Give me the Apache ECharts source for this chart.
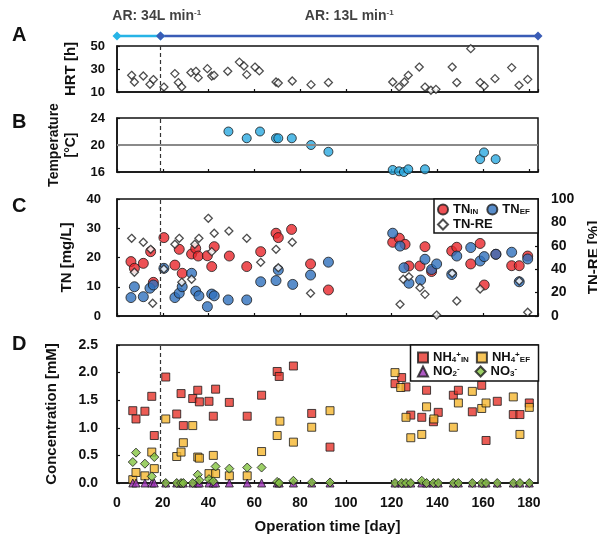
<!DOCTYPE html>
<html>
<head>
<meta charset="utf-8">
<script src="https://cdn.jsdelivr.net/npm/echarts@6/dist/echarts.min.js"></script>
<style>
  html, body { margin: 0; padding: 0; background: #fff; }
  #chart { width: 597px; height: 535px; }
</style>
</head>
<body>
<div id="chart"></div>
<script>
// ---- operation-time axis ----
const dayMin = 0, dayMax = 184, dayStep = 20;
const switchDay = 19;                       // aeration-rate change

// ---- aeration-rate phases ----
const arStart = [0, 19];
const arEnd = [19, 184];
const arRate = [34, 13];

// ---- A: hydraulic retention time ----
const hrtDay = [6.4, 7.6, 11.5, 14.4, 15.9, 20.5, 25.3, 26.8, 28.3, 32.3, 34.5, 35.5, 39.5, 41.4, 42.4,
  48.4, 53.5, 55.5, 56.7, 60.3, 62.2, 69.5, 70.5, 76.6, 84.8, 92.4, 120.5, 123.3, 125.6, 127.3,
  132.1, 134.6, 137.2, 139.4, 146.5, 148.5, 154.6, 158.7, 160.5, 165.2, 172.5, 175.7, 179.5];
const hrtVal = [24.5, 18.7, 23.9, 16.7, 20.8, 14.3, 26.0, 18.2, 14.3, 26.9, 28.0, 22.5, 30.3, 23.9, 24.5,
  28.0, 36.0, 32.6, 25.1, 31.7, 28.3, 18.7, 17.8, 19.6, 16.4, 18.2, 18.7, 14.3, 18.7, 24.5,
  31.7, 14.3, 11.5, 12.3, 31.7, 18.2, 47.7, 18.2, 15.2, 21.6, 31.2, 15.8, 21.0];

// ---- B: temperature ----
const tempDay = [48.7, 56.7, 62.5, 69.5, 70.5, 76.4, 84.8, 92.4, 120.5, 123.3, 125.4, 127.3, 134.6, 158.7, 160.4, 165.5];
const tempVal = [22, 21, 22, 21, 21, 21, 20, 19, 16.3, 16.1, 16.0, 16.4, 16.4, 17.9, 18.9, 17.9];

// ---- C: total nitrogen ----
const tnInDay = [6.1, 7.6, 11.5, 14.7, 15.9, 20.5, 25.3, 27.2, 28.5, 32.6, 34.4, 35.5, 39.5, 41.4, 42.5,
  49.1, 56.7, 62.8, 69.5, 70.5, 76.3, 84.6, 92.4, 120.5, 123.4, 125.9, 127.6, 132.4, 134.6, 137.5,
  146.3, 148.5, 154.6, 158.7, 160.5, 165.6, 172.5, 175.8, 179.5];
const tnInVal = [18.6, 16.3, 18.0, 22.0, 11.5, 26.8, 17.4, 22.8, 14.6, 21.2, 23.1, 20.5, 20.6, 16.9, 23.7,
  20.5, 16.9, 22.0, 28.3, 26.8, 29.6, 17.8, 8.9, 25.2, 26.6, 24.5, 17.1, 17.1, 23.7, 15.2,
  22.2, 23.5, 17.8, 24.8, 10.6, 21.1, 17.2, 17.2, 20.5];
const tnEfDay = [6.1, 7.6, 11.5, 14.4, 15.9, 20.5, 25.3, 27.2, 28.5, 32.6, 34.4, 35.8, 39.5, 41.4, 42.5,
  48.6, 56.7, 62.8, 69.5, 70.5, 76.8, 84.6, 92.4, 120.5, 123.7, 125.4, 127.6, 132.7, 134.6, 137.5,
  139.7, 146.3, 148.5, 154.6, 158.7, 160.5, 165.6, 172.5, 175.8, 179.5];
const tnEfVal = [6.3, 10.0, 6.6, 9.5, 10.6, 16.3, 6.3, 7.8, 10.0, 14.6, 8.5, 6.9, 3.2, 7.5, 6.9,
  5.5, 5.5, 11.7, 12.1, 15.7, 10.8, 14.0, 18.4, 28.3, 23.9, 16.5, 11.2, 12.3, 19.4, 15.9,
  17.8, 14.2, 20.5, 23.4, 18.8, 20.3, 21.1, 21.8, 11.7, 19.5];
const tnReDay = [6.4, 7.6, 11.5, 14.7, 15.6, 20.5, 25.3, 27.2, 28.3, 32.6, 34.0, 35.8, 39.9, 41.4, 42.5,
  48.9, 56.7, 62.8, 69.5, 70.5, 76.6, 84.6, 123.7, 125.1, 127.6, 132.4, 134.6, 139.7, 146.5, 148.5,
  158.7, 175.8, 179.5];
const tnReVal = [66.4, 37.4, 63.0, 57.0, 10.9, 40.2, 61.3, 66.4, 28.8, 31.4, 61.3, 66.4, 83.5, 55.0, 70.7,
  72.6, 66.4, 45.9, 57.0, 41.3, 63.0, 19.4, 10.0, 31.4, 33.6, 24.2, 18.5, 0.8, 36.5, 12.8,
  23.1, 29.9, 3.2];

// ---- D: inorganic nitrogen species ----
const ionDay = [6.9, 8.3, 12.2, 15.2, 16.3, 21.3, 26.1, 28.0, 29.0, 33.1, 35.3, 36.0, 40.2, 42.1, 43.1,
  49.1, 56.9, 63.2, 70.0, 70.9, 77.1, 85.1, 93.1, 121.5, 124.4, 126.3, 128.4, 133.2, 135.3, 138.3,
  140.4, 147.0, 149.2, 155.3, 159.4, 161.3, 166.2, 173.2, 176.1, 180.2];
const nh4InVal = [1.31, 1.16, 1.30, 1.57, 0.86, 1.92, 1.25, 1.62, 1.04, 1.53, 1.68, 1.47, 1.48, 1.21, 1.70,
  1.46, 1.21, 1.59, 2.02, 1.93, 2.12, 1.26, 0.65, 1.80, 1.91, 1.74, 1.23, 1.19, 1.68, 1.11,
  1.28, 1.59, 1.68, 1.29, 1.77, 0.77, 1.48, 1.24, 1.24, 1.45];
const nh4EfDay = [6.9, 8.3, 12.2, 15.2, 16.3, 21.3, 26.1, 28.0, 29.0, 33.1, 35.3, 36.0, 40.2, 42.1, 43.1,
  49.1, 56.9, 63.2, 70.0, 71.2, 77.1, 85.1, 93.1, 121.5, 124.0, 126.3, 128.4, 133.2, 135.3, 138.5,
  147.0, 149.2, 155.3, 159.4, 161.3, 173.2, 176.1, 180.2];
const nh4EfVal = [0.06, 0.19, 0.13, 0.56, 0.26, 1.16, 0.48, 0.56, 0.73, 1.04, 0.47, 0.45, 0.17, 0.50, 0.17,
  0.13, 0.13, 0.57, 0.86, 1.12, 0.74, 1.01, 1.31, 2.00, 1.73, 1.19, 0.82, 0.88, 1.38, 1.16,
  1.01, 1.45, 1.66, 1.35, 1.45, 1.56, 0.88, 1.37];
const no2Val = [0, 0, 0, 0, 0, 0, 0, 0, 0, 0, 0, 0, 0, 0, 0, 0, 0, 0, 0, 0,
  0, 0, 0, 0, 0, 0, 0, 0, 0, 0, 0, 0, 0, 0, 0, 0, 0, 0, 0, 0];
const no3Val = [0.38, 0.55, 0.35, 0.12, 0.47, 0, 0, 0, 0, 0, 0.15, 0.05, 0.07, 0.03, 0.30,
  0.26, 0.28, 0.28, 0.02, 0, 0.04, 0.01, 0.01, 0, 0, 0, 0, 0.04, 0, 0,
  0, 0, 0, 0, 0, 0, 0, 0, 0, 0];

// ---- styling ----
const FONT = '"Liberation Sans", Arial, sans-serif';
const INK = '#111';
const GL = 117, GR = 59;

const pairs = (xs, ys) => xs.map((x, i) => [x, ys[i]]);

const rich = {
  sub: { fontFamily: FONT, fontWeight: 'bold', fontSize: 8, color: INK, lineHeight: 9, verticalAlign: 'bottom' },
  sup: { fontFamily: FONT, fontWeight: 'bold', fontSize: 8, color: INK, lineHeight: 9, verticalAlign: 'top' }
};

const legendText = {
  'TN_IN': 'TN{sub|IN}',
  'TN_EF': 'TN{sub|EF}',
  'TN-RE': 'TN-RE',
  'NH4_IN': 'NH{sub|4}{sup|+}{sub|IN}',
  'NH4_EF': 'NH{sub|4}{sup|+}{sub|EF}',
  'NO2': 'NO{sub|2}{sup|-}',
  'NO3': 'NO{sub|3}{sup|-}'
};

function xAxisFor(grid, labelled) {
  return {
    type: 'value', gridIndex: grid, min: dayMin, max: dayMax, interval: dayStep,
    show: grid > 0,
    axisLine: { show: true, onZero: false, lineStyle: { color: INK, width: 1.5 } },
    axisTick: { show: true, inside: true, length: 3, lineStyle: { color: INK, width: 1.2 } },
    splitLine: { show: false },
    axisLabel: {
      show: labelled, margin: 13, showMaxLabel: false,
      fontFamily: FONT, fontWeight: 'bold', fontSize: 14, color: INK
    },
    name: labelled ? 'Operation time [day]' : '',
    nameLocation: 'middle', nameGap: 36,
    nameTextStyle: { fontFamily: FONT, fontWeight: 'bold', fontSize: 15, color: INK }
  };
}

function yAxisFor(grid, min, max, step, name, gap, opts) {
  return Object.assign({
    type: 'value', gridIndex: grid, min: min, max: max, interval: step,
    axisLine: { show: true, lineStyle: { color: INK, width: 1.5 } },
    axisTick: { show: true, inside: true, length: 3, lineStyle: { color: INK, width: 1.2 } },
    splitLine: { show: false },
    axisLabel: { margin: 12, fontFamily: FONT, fontWeight: 'bold', fontSize: 13, color: INK },
    name: name, nameLocation: 'middle', nameRotate: 90, nameGap: gap,
    nameTextStyle: { fontFamily: FONT, fontWeight: 'bold', fontSize: 15, color: INK, lineHeight: 17 }
  }, opts || {});
}

const switchLine = {
  silent: true, symbol: 'none', label: { show: false },
  lineStyle: { type: [4, 3], color: '#333', width: 1.2 },
  data: [{ xAxis: switchDay }]
};

const dot = (color) => ({ color: color, borderColor: '#1a1a1a', borderWidth: 1 });

const panel = (top, height, framed) => ({
  left: GL, right: GR, top: top, height: height, show: framed,
  borderColor: INK, borderWidth: 1.5, outerBoundsMode: 'none', containLabel: false
});

const chart = echarts.init(document.getElementById('chart'), null, { renderer: 'canvas' });

chart.setOption({
  animation: false,
  backgroundColor: '#fff',
  grid: [
    panel(31, 10, false),
    panel(46, 46, true),
    panel(118, 54, true),
    panel(199, 117, true),
    panel(345, 138, true)
  ],
  xAxis: [xAxisFor(0, false), xAxisFor(1, false), xAxisFor(2, false), xAxisFor(3, false), xAxisFor(4, true)],
  yAxis: [
    { type: 'value', gridIndex: 0, min: 0, max: 1, show: false },
    yAxisFor(1, 10, 50, 20, 'HRT [h]', 30),
    yAxisFor(2, 16, 24, 4, 'Temperature\n[°C]', 30, {
      nameTextStyle: { fontFamily: FONT, fontWeight: 'bold', fontSize: 14, color: INK, lineHeight: 17 }
    }),
    yAxisFor(3, 0, 40, 10, 'TN [mg/L]', 35, {
      axisLabel: { margin: 16, fontFamily: FONT, fontWeight: 'bold', fontSize: 13, color: INK }
    }),
    yAxisFor(3, 0, 100, 20, 'TN-RE [%]', 44, {
      position: 'right',
      axisLabel: { margin: 13, fontFamily: FONT, fontWeight: 'bold', fontSize: 14, color: INK }
    }),
    yAxisFor(4, 0, 2.5, 0.5, 'Concentration [mM]', 57, {
      axisLabel: {
        margin: 19, fontFamily: FONT, fontWeight: 'bold', fontSize: 14, color: INK,
        formatter: (v) => v.toFixed(1)
      }
    })
  ],
  legend: [
    { data: ['TN_IN', 'TN_EF'], left: 437, top: 203, itemGap: 8 },
    { data: ['TN-RE'], left: 437, top: 218, itemGap: 8 },
    { data: ['NH4_IN', 'NH4_EF'], left: 417, top: 351, itemGap: 7 },
    { data: ['NO2', 'NO3'], left: 417, top: 365, itemGap: 15 }
  ].map((l) => Object.assign({
    orient: 'horizontal', padding: 0, itemWidth: 10, itemHeight: 10, selectedMode: false, z: 6,
    formatter: (n) => legendText[n],
    textStyle: { fontFamily: FONT, fontWeight: 'bold', fontSize: 13, color: INK, rich: rich }
  }, l)),
  graphic: [
    { type: 'rect', shape: { x: 434, y: 199, width: 104, height: 34 }, z: 5,
      style: { fill: '#fff', stroke: INK, lineWidth: 1.5 } },
    { type: 'rect', shape: { x: 410.5, y: 345, width: 128, height: 36 }, z: 5,
      style: { fill: '#fff', stroke: INK, lineWidth: 1.5 } },
    { type: 'text', left: 12, top: 25, style: { text: 'A', font: 'bold 20px ' + FONT, fill: INK } },
    { type: 'text', left: 12, top: 112, style: { text: 'B', font: 'bold 20px ' + FONT, fill: INK } },
    { type: 'text', left: 12, top: 196, style: { text: 'C', font: 'bold 20px ' + FONT, fill: INK } },
    { type: 'text', left: 12, top: 334, style: { text: 'D', font: 'bold 20px ' + FONT, fill: INK } }
  ],
  series: [
    // aeration-rate phase bars above panel A
    { type: 'line', name: 'phase1', xAxisIndex: 0, yAxisIndex: 0,
      data: [[arStart[0], 0.5], [arEnd[0], 0.5]],
      symbol: 'diamond', symbolSize: 9, lineStyle: { color: '#27b4e6', width: 2.5 },
      itemStyle: { color: '#27b4e6' }, z: 3 },
    { type: 'line', name: 'phase2', xAxisIndex: 0, yAxisIndex: 0,
      data: [[arStart[1], 0.5], [arEnd[1], 0.5]],
      symbol: 'diamond', symbolSize: 9, lineStyle: { color: '#3a5cb6', width: 2.5 },
      itemStyle: { color: '#3a5cb6' }, z: 3 },
    { type: 'scatter', name: 'phaseLabel', xAxisIndex: 0, yAxisIndex: 0, symbolSize: 0, silent: true,
      data: arRate.map((r, i) => ({
        value: [(arStart[i] + arEnd[i]) / 2, 0.5],
        label: { formatter: 'AR: ' + r + 'L min{sup|-1}', offset: [i === 0 ? 18 : 0, 0] }
      })),
      label: { show: true, position: 'top', distance: 13,
        fontFamily: FONT, fontWeight: 'bold', fontSize: 14, color: INK, rich: rich } },

    // A
    { type: 'scatter', name: 'HRT', xAxisIndex: 1, yAxisIndex: 1, clip: false,
      data: pairs(hrtDay, hrtVal), symbol: 'diamond', symbolSize: 8,
      itemStyle: { color: '#fff', borderColor: '#222', borderWidth: 1.3 },
      markLine: switchLine },

    // B
    { type: 'scatter', name: 'Temperature', xAxisIndex: 2, yAxisIndex: 2, clip: false,
      data: pairs(tempDay, tempVal), symbol: 'circle', symbolSize: 9,
      itemStyle: dot('#2aa9e0'),
      markLine: {
        silent: true, symbol: 'none', label: { show: false },
        data: [
          { xAxis: switchDay, lineStyle: { type: [4, 3], color: '#333', width: 1.2 } },
          { yAxis: 20, lineStyle: { type: 'solid', color: '#8a8a8a', width: 2 } }
        ]
      } },

    // C
    { type: 'scatter', name: 'TN_IN', xAxisIndex: 3, yAxisIndex: 3, clip: false,
      data: pairs(tnInDay, tnInVal), symbol: 'circle', symbolSize: 10,
      itemStyle: dot('#e8262b'), markLine: switchLine, z: 2 },
    { type: 'scatter', name: 'TN_EF', xAxisIndex: 3, yAxisIndex: 3, clip: false,
      data: pairs(tnEfDay, tnEfVal), symbol: 'circle', symbolSize: 10,
      itemStyle: dot('#2f70bd'), z: 2 },
    { type: 'scatter', name: 'TN-RE', xAxisIndex: 3, yAxisIndex: 4, clip: false,
      data: pairs(tnReDay, tnReVal), symbol: 'diamond', symbolSize: 8,
      itemStyle: { color: '#fff', borderColor: '#222', borderWidth: 1.3 }, z: 3 },

    // D
    { type: 'scatter', name: 'NH4_IN', xAxisIndex: 4, yAxisIndex: 5, clip: false,
      data: pairs(ionDay, nh4InVal), symbol: 'rect', symbolSize: 8,
      itemStyle: dot('#e6332a'), markLine: switchLine, z: 2 },
    { type: 'scatter', name: 'NH4_EF', xAxisIndex: 4, yAxisIndex: 5, clip: false,
      data: pairs(nh4EfDay, nh4EfVal), symbol: 'rect', symbolSize: 8,
      itemStyle: dot('#f5b730'), z: 2 },
    { type: 'scatter', name: 'NO2', xAxisIndex: 4, yAxisIndex: 5, clip: false,
      data: pairs(ionDay, no2Val), symbol: 'triangle', symbolSize: 8,
      itemStyle: dot('#9b2fb5'), z: 2 },
    { type: 'scatter', name: 'NO3', xAxisIndex: 4, yAxisIndex: 5, clip: false,
      data: pairs(ionDay, no3Val), symbol: 'diamond', symbolSize: 9,
      itemStyle: dot('#85c441'), z: 3 }
  ]
});
</script>
</body>
</html>
